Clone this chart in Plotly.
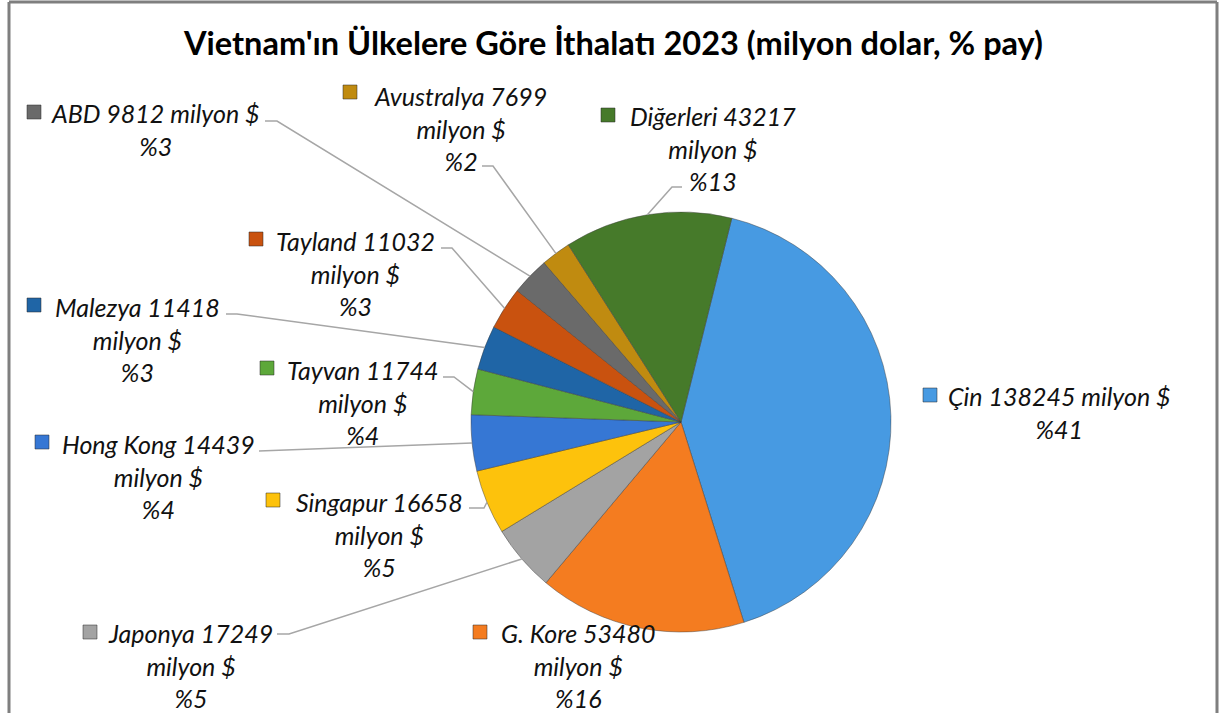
import math
import plotly.graph_objects as go

# ---- data ----
countries = ["Çin", "G. Kore", "Japonya", "Singapur", "Hong Kong", "Tayvan",
             "Malezya", "Tayland", "ABD", "Avustralya", "Diğerleri"]
values = [138245, 53480, 17249, 16658, 14439, 11744, 11418, 11032, 9812, 7699, 43217]
unit = "milyon $"
title_text = "Vietnam'ın Ülkelere Göre İthalatı 2023 (milyon dolar, % pay)"

# ---- styles ----
colors = ["#479ae2", "#f47c20", "#a3a3a3", "#fdc20c", "#3677d4", "#5da83a",
          "#1f65a6", "#c9520f", "#6a6a6a", "#c08b10", "#467a2a"]

W, H = 1219, 713
CX, CY, R = 681, 422, 210          # pie centre / radius in pixels
ROT = 14                            # start angle of first slice (deg, clockwise)
FONT = "Lato"
LABEL_SIZE = 25
KEY = 14                            # legend-key square size (px)

# label layout: text-centre x, block-centre y, key centre x, key centre y, one-line?
label_pos = {
    "Çin": (1059, 412, 930, 395, True),
    "G. Kore": (578, 665, 480, 632, False),
    "Japonya": (190, 665, 90, 632, False),
    "Singapur": (379, 534, 273, 500, False),
    "Hong Kong": (158, 476, 42, 442, False),
    "Tayvan": (363, 402, 267, 368, False),
    "Malezya": (137, 339, 34, 305, False),
    "Tayland": (356, 273, 256, 239, False),
    "ABD": (155, 129, 34, 112, True),
    "Avustralya": (460, 128, 350, 92, False),
    "Diğerleri": (713, 148, 608, 115, False),
}
# leader-line points on the label side (pixels)
leader_pts = {
    "Japonya": [(277, 634), (289, 634)],
    "Singapur": [(469, 508), (484, 508)],
    "Hong Kong": [(259, 451)],
    "Tayvan": [(443, 377), (454, 377)],
    "Malezya": [(226, 314), (237, 314)],
    "Tayland": [(441, 248), (452, 248)],
    "ABD": [(265, 121), (277, 121)],
    "Avustralya": [(482, 166), (493, 166)],
    "Diğerleri": [(682, 187), (672, 187)],
}


def px(x):
    return x / W


def py(y):
    return 1 - y / H


total = sum(values)
fig = go.Figure()
fig.add_trace(go.Pie(
    labels=countries, values=values, sort=False, direction="clockwise",
    rotation=ROT, textinfo="none", hoverinfo="label+value+percent",
    marker=dict(colors=colors, line=dict(color="rgba(60,60,60,0.45)", width=1)),
    domain=dict(x=[px(CX - R), px(CX + R)], y=[py(CY + R), py(CY - R)]),
    showlegend=False,
))

shapes = []
annotations = []
cum = 0.0
for name, v, c in zip(countries, values, colors):
    a0 = ROT + cum / total * 360
    cum += v
    a1 = ROT + cum / total * 360
    mid = math.radians((a0 + a1) / 2)
    ex, ey = CX + R * math.sin(mid), CY - R * math.cos(mid)
    pct = round(v / total * 100)
    x, y, kx, ky, oneline = label_pos[name]
    if oneline:
        txt = f"{name} {v} {unit}<br>%{pct}"
    else:
        txt = f"{name} {v}<br>{unit}<br>%{pct}"
    annotations.append(dict(
        x=px(x), y=py(y), xref="paper", yref="paper", text=txt, showarrow=False,
        xanchor="center", yanchor="middle", align="center",
        font=dict(family=FONT, size=LABEL_SIZE, color="#111111", style="italic"),
    ))
    # legend key square
    shapes.append(dict(type="rect", xref="paper", yref="paper",
                       x0=px(kx - KEY / 2), x1=px(kx + KEY / 2),
                       y0=py(ky + KEY / 2), y1=py(ky - KEY / 2),
                       fillcolor=c, line=dict(color="rgba(40,40,40,0.5)", width=1)))
    if name in leader_pts:
        pts = leader_pts[name] + [(ex, ey)]
        path = "M " + " L ".join(f"{px(p[0])},{py(p[1])}" for p in pts)
        shapes.append(dict(type="path", path=path, xref="paper", yref="paper",
                           line=dict(color="#a6a6a6", width=1.5)))

# chart frame
frame = dict(color="#7f7f7f", width=3)
shapes += [
    dict(type="line", xref="paper", yref="paper", x0=px(9), x1=px(9), y0=py(2), y1=-0.1, line=frame),
    dict(type="line", xref="paper", yref="paper", x0=px(9), x1=px(1217), y0=py(2), y1=py(2), line=frame),
    dict(type="line", xref="paper", yref="paper", x0=px(1217), x1=px(1217), y0=py(2), y1=-0.1, line=frame),
]

annotations.append(dict(
    x=px(613), y=py(43), xref="paper", yref="paper", text=f"<b>{title_text}</b>",
    showarrow=False, xanchor="center", yanchor="middle",
    font=dict(family=FONT, size=32.5, color="#000000"),
))

fig.update_layout(
    width=W, height=H, margin=dict(l=0, r=0, t=0, b=0),
    paper_bgcolor="white", plot_bgcolor="white",
    shapes=shapes, annotations=annotations,
)
fig.write_html("out.html", config={"displayModeBar": False},
               post_script="document.body.style.margin='0';")
